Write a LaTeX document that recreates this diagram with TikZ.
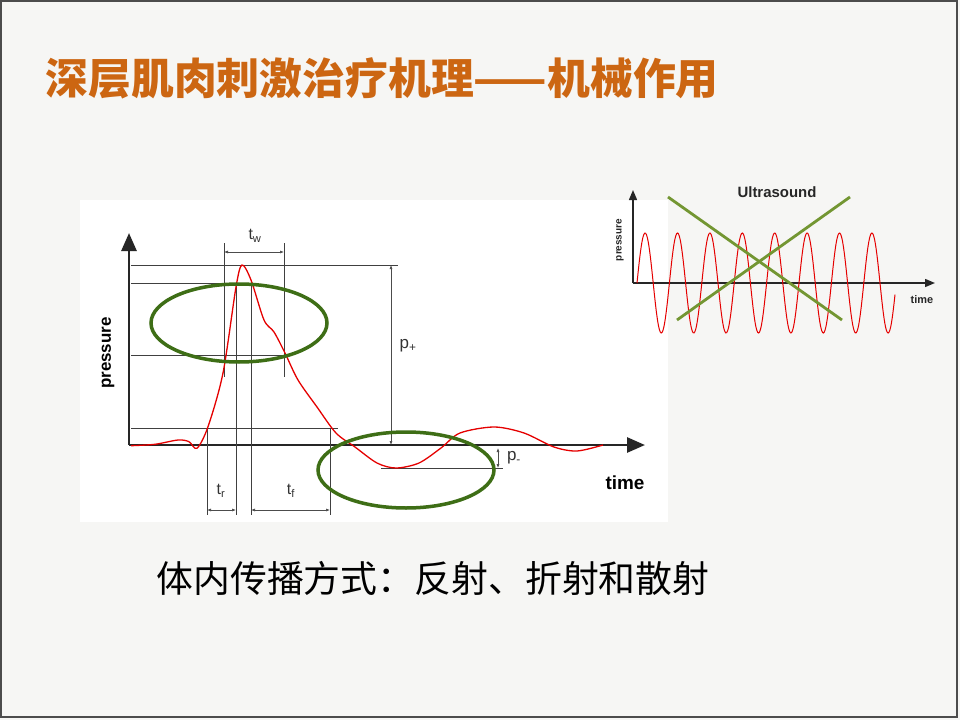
\documentclass[tikz,border=0pt]{standalone}
\usepackage{fontspec}
\setmainfont{Liberation Sans}
\newfontfamily\cjk{Noto Sans CJK SC}
\usetikzlibrary{arrows.meta}
\definecolor{ttl}{RGB}{204,102,18}
\definecolor{ell}{RGB}{62,110,22}
\definecolor{crs}{RGB}{115,150,50}
\definecolor{bgc}{RGB}{246,246,244}
\begin{document}
\begin{tikzpicture}[x=1bp,y=-1bp,
  thin/.style={draw=black!75,line width=0.9bp},
  dim/.style={draw=black!70,line width=0.6bp,{Latex[length=4bp,width=3bp]}-{Latex[length=4bp,width=3bp]}},
  axis/.style={draw=black!85,line width=2.8bp,-{Triangle[length=18bp,width=15bp]}},
  ax2/.style={draw=black!85,line width=1.4bp,-{Triangle[length=10bp,width=8bp]}},
  ring/.style={draw=ell,line width=3.5bp},
  cross/.style={draw=crs,line width=2.8bp},
  wave/.style={draw=red!90!black,line width=1.3bp}]
\useasboundingbox (0,0) rectangle (960,720);
\fill[bgc] (0,0) rectangle (960,720);
\draw[black!70,line width=1.5bp] (1,1) rectangle (957,717);
\node[anchor=west,text=ttl,font=\cjk\bfseries\fontsize{43}{45}\selectfont] (title) at (42,78) {深层肌肉刺激治疗机理——机械作用};
% main chart
\fill[white] (80,200) rectangle (668,522);
\coordinate (o) at (129,445);
\coordinate (ytip) at (129,233);
\coordinate (xtip) at (645,445);
\draw[axis] (o) -- (ytip);
\draw[axis] (o) -- (xtip);
\draw[thin] (131,265) -- (398,265);
\draw[thin] (131,283) -- (253,283);
\draw[thin] (131,355) -- (285,355);
\draw[thin] (131,428) -- (338,428);
\draw[thin] (224,243) -- (224,377);
\draw[thin] (284,243) -- (284,377);
\draw[thin] (236,283) -- (236,515);
\draw[thin] (251,283) -- (251,515);
\draw[thin] (207,428) -- (207,515);
\draw[thin] (330,428) -- (330,515);
\draw[thin] (381,468) -- (503,468);
\draw[dim] (224,252) -- (284,252);
\draw[dim] (207,510) -- (236,510);
\draw[dim] (251,510) -- (330,510);
\draw[dim] (391,265) -- (391,445);
\draw[dim] (498,448) -- (498,468);
\node[font=\fontsize{16}{17}\selectfont,text=black!80] (tw) at (255,236) {t\textsubscript{w}};
\node[font=\fontsize{16}{17}\selectfont,text=black!80] (tr) at (221,491) {t\textsubscript{r}};
\node[font=\fontsize{16}{17}\selectfont,text=black!80] (tf) at (291,491) {t\textsubscript{f}};
\node[font=\fontsize{17}{18}\selectfont,text=black!80] (pp) at (408,346) {p\textsubscript{+}};
\node[font=\fontsize{17}{18}\selectfont,text=black!80] (pm) at (514,458) {p\textsubscript{-}};
\node[font=\bfseries\fontsize{19}{20}\selectfont] (time) at (625,483) {time};
\node[font=\bfseries\fontsize{17}{18}\selectfont,rotate=90] (pres) at (108,353) {pressure};
\draw[wave] plot[smooth,tension=0.5] coordinates {(131,445.7) (155,444.3) (178,440) (189,441.7) (197,448.3) (208,426.7) (223,373) (236,287) (242,265) (251,280) (264,320) (274,332) (285,353) (298,380) (317,407) (336,433) (355,447) (377,463) (396,468) (419,463) (441,448) (460,433) (494,427) (524,433) (554,447) (577,451) (603,445)};
\draw[ring] (239,323) ellipse [x radius=88,y radius=39];
\draw[ring] (406,470) ellipse [x radius=88,y radius=38];
% ultrasound
\coordinate (uo) at (633,283);
\coordinate (uy) at (633,190);
\coordinate (ux) at (935,283);
\draw[ax2] (uo) -- (uy);
\draw[ax2] (uo) -- (ux);
\draw[red!90!black,line width=1bp,domain=4:262,samples=300,smooth] plot ({633+\x},{283-50*sin(11.111*\x-44.44)});
\node[font=\bfseries\fontsize{15}{16}\selectfont,text=black!85] (ut) at (777,192) {Ultrasound};
\node[font=\bfseries\fontsize{11}{12}\selectfont,text=black!85] (ut2) at (922,300) {time};
\node[font=\bfseries\fontsize{10}{11}\selectfont,text=black!85,rotate=90] (up) at (620,240) {pressure};
\draw[cross] (668,197) -- (842,320);
\draw[cross] (850,197) -- (677,320);
\node[anchor=west,font=\cjk\fontsize{37}{40}\selectfont] (sub) at (153,578) {体内传播方式：反射、折射和散射};
\end{tikzpicture}
\end{document}
